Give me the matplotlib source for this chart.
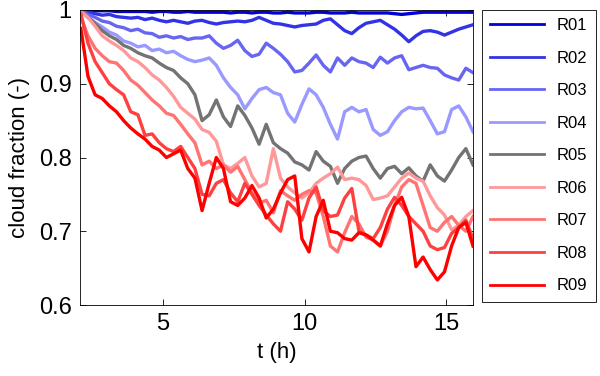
import numpy as np
import matplotlib
matplotlib.use("Agg")
import matplotlib.pyplot as plt

plt.rcParams['font.family'] = ['Liberation Sans', 'DejaVu Sans']

# time axis (h)
t = np.linspace(2.1, 15.95, 56)

labels = ['R01', 'R02', 'R03', 'R04', 'R05', 'R06', 'R07', 'R08', 'R09']

r01 = [1.000, 1.000, 0.999, 0.999, 0.999, 0.998, 0.998, 0.998, 0.998, 0.998,
       0.997, 0.998, 0.998, 0.997, 0.997, 0.998, 0.997, 0.997, 0.997, 0.997,
       0.997, 0.996, 0.997, 0.997, 0.996, 0.997, 0.997, 0.996, 0.996, 0.997,
       0.996, 0.996, 0.996, 0.997, 0.997, 0.996, 0.996, 0.996, 0.997, 0.996,
       0.996, 0.996, 0.996, 0.996, 0.995, 0.994, 0.995, 0.996, 0.997, 0.997,
       0.997, 0.997, 0.997, 0.997, 0.997, 0.997]
r02 = [1.000, 0.997, 0.995, 0.993, 0.994, 0.991, 0.990, 0.989, 0.990, 0.987,
       0.989, 0.986, 0.984, 0.986, 0.984, 0.982, 0.985, 0.986, 0.983, 0.981,
       0.983, 0.984, 0.985, 0.984, 0.986, 0.990, 0.986, 0.982, 0.981, 0.979,
       0.977, 0.979, 0.980, 0.981, 0.986, 0.988, 0.980, 0.972, 0.968, 0.976,
       0.982, 0.984, 0.986, 0.980, 0.974, 0.966, 0.957, 0.965, 0.971, 0.972,
       0.970, 0.966, 0.970, 0.974, 0.977, 0.980]
r03 = [1.000, 0.994, 0.990, 0.985, 0.983, 0.978, 0.976, 0.972, 0.974, 0.969,
       0.968, 0.963, 0.965, 0.962, 0.964, 0.960, 0.962, 0.962, 0.965, 0.955,
       0.948, 0.952, 0.959, 0.945, 0.937, 0.940, 0.955, 0.948, 0.940, 0.930,
       0.916, 0.918, 0.928, 0.939, 0.925, 0.916, 0.935, 0.925, 0.935, 0.930,
       0.928, 0.922, 0.936, 0.928, 0.935, 0.938, 0.919, 0.922, 0.925, 0.922,
       0.921, 0.912, 0.908, 0.905, 0.921, 0.915]
r04 = [1.000, 0.990, 0.983, 0.977, 0.970, 0.966, 0.958, 0.955, 0.950, 0.952,
       0.945, 0.947, 0.942, 0.944, 0.938, 0.933, 0.930, 0.932, 0.935, 0.925,
       0.908, 0.895, 0.885, 0.866, 0.880, 0.892, 0.895, 0.888, 0.885, 0.860,
       0.848, 0.872, 0.893, 0.885, 0.868, 0.845, 0.825, 0.862, 0.868, 0.862,
       0.865, 0.838, 0.830, 0.835, 0.850, 0.862, 0.868, 0.866, 0.867, 0.850,
       0.832, 0.835, 0.865, 0.870, 0.855, 0.835]
r05 = [1.000, 0.990, 0.982, 0.972, 0.965, 0.960, 0.952, 0.948, 0.942, 0.938,
       0.935, 0.928, 0.922, 0.918, 0.908, 0.900, 0.885, 0.850, 0.858, 0.878,
       0.855, 0.842, 0.870, 0.857, 0.840, 0.818, 0.845, 0.820, 0.812, 0.806,
       0.794, 0.790, 0.783, 0.808, 0.795, 0.788, 0.765, 0.785, 0.795, 0.800,
       0.802, 0.785, 0.772, 0.785, 0.788, 0.778, 0.786, 0.775, 0.768, 0.790,
       0.775, 0.768, 0.783, 0.800, 0.812, 0.790]
r06 = [0.998, 0.990, 0.978, 0.965, 0.958, 0.952, 0.945, 0.935, 0.930, 0.922,
       0.912, 0.905, 0.895, 0.883, 0.868, 0.860, 0.852, 0.838, 0.834, 0.822,
       0.790, 0.785, 0.792, 0.800, 0.775, 0.760, 0.765, 0.812, 0.772, 0.760,
       0.752, 0.745, 0.752, 0.765, 0.772, 0.778, 0.787, 0.770, 0.772, 0.770,
       0.762, 0.743, 0.745, 0.748, 0.760, 0.772, 0.779, 0.772, 0.768, 0.748,
       0.732, 0.722, 0.702, 0.708, 0.720, 0.728]
r07 = [0.990, 0.965, 0.948, 0.938, 0.930, 0.928, 0.918, 0.905, 0.898, 0.888,
       0.878, 0.870, 0.860, 0.857, 0.845, 0.832, 0.820, 0.790, 0.795, 0.785,
       0.790, 0.780, 0.788, 0.770, 0.752, 0.738, 0.742, 0.725, 0.755, 0.748,
       0.742, 0.750, 0.755, 0.752, 0.720, 0.680, 0.672, 0.698, 0.720, 0.710,
       0.692, 0.688, 0.680, 0.700, 0.735, 0.760, 0.770, 0.765, 0.735, 0.705,
       0.700, 0.712, 0.720, 0.708, 0.700, 0.720]
r08 = [0.995, 0.955, 0.930, 0.915, 0.900, 0.892, 0.885, 0.862, 0.858, 0.830,
       0.832, 0.820, 0.812, 0.808, 0.815, 0.800, 0.785, 0.750, 0.748, 0.765,
       0.770, 0.752, 0.740, 0.765, 0.750, 0.735, 0.722, 0.710, 0.700, 0.740,
       0.730, 0.715, 0.745, 0.760, 0.728, 0.720, 0.722, 0.745, 0.758, 0.700,
       0.695, 0.690, 0.705, 0.730, 0.746, 0.735, 0.720, 0.710, 0.700, 0.680,
       0.675, 0.678, 0.697, 0.705, 0.715, 0.690]
r09 = [0.975, 0.910, 0.885, 0.880, 0.870, 0.862, 0.850, 0.840, 0.832, 0.825,
       0.815, 0.810, 0.800, 0.805, 0.810, 0.785, 0.772, 0.728, 0.765, 0.800,
       0.785, 0.740, 0.735, 0.745, 0.762, 0.745, 0.718, 0.730, 0.752, 0.770,
       0.775, 0.690, 0.672, 0.720, 0.742, 0.700, 0.698, 0.690, 0.688, 0.698,
       0.695, 0.688, 0.680, 0.710, 0.735, 0.746, 0.720, 0.652, 0.665, 0.648,
       0.634, 0.645, 0.680, 0.705, 0.712, 0.680]

series = [r01, r02, r03, r04, r05, r06, r07, r08, r09]
colors = [(0.0, 0.0, 0.85), (0.2, 0.2, 0.9), (0.4, 0.4, 0.95), (0.6, 0.6, 1.0),
          (0.45, 0.45, 0.45), (1.0, 0.6, 0.6), (1.0, 0.45, 0.45),
          (1.0, 0.25, 0.25), (1.0, 0.0, 0.0)]

fig = plt.figure(figsize=(6, 3.76), dpi=100)
ax = fig.add_axes([80/600, 71/376, 393/600, 295/376])

for y, c, lab in zip(series, colors, labels):
    ax.plot(t, y, color=c, lw=2.4, label=lab)

ax.set_xlim(2.07, 15.95)
ax.set_ylim(0.6, 1.0)
ax.set_xticks([5, 10, 15])
ax.set_yticks([0.6, 0.7, 0.8, 0.9, 1.0])
ax.set_yticklabels(['0.6', '0.7', '0.8', '0.9', '1'])
ax.tick_params(direction='in', length=4, width=0.6, labelsize=17,
               top=True, right=True, pad=6)
for s in ax.spines.values():
    s.set_linewidth(0.6)
ax.set_xlabel('t (h)', fontsize=16, labelpad=5)
ax.set_ylabel('cloud fraction (-)', fontsize=16, labelpad=6)

leg = fig.legend(loc='upper left', bbox_to_anchor=(482/600, 366/376),
                 borderaxespad=0, fontsize=12, handlelength=3.2,
                 labelspacing=1.05, borderpad=0.5, handletextpad=0.8,
                 fancybox=False, edgecolor='black', framealpha=1)
leg.get_frame().set_linewidth(0.6)
for line in leg.get_lines():
    line.set_linewidth(2.0)

fig.savefig('out.png', dpi=100)
